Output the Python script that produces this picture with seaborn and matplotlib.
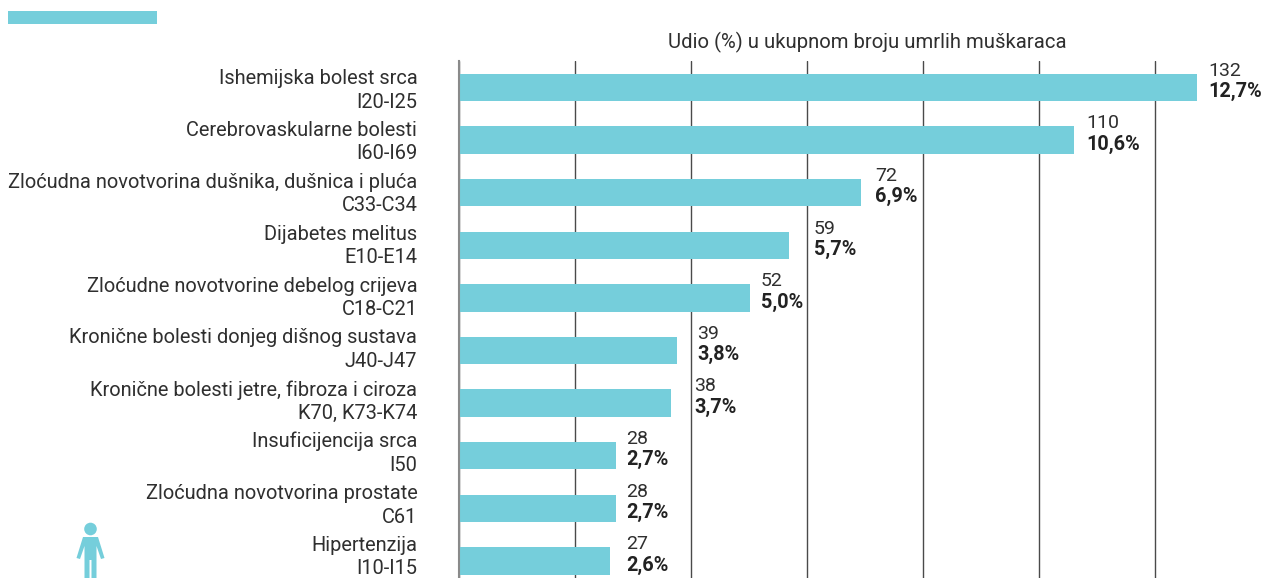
import matplotlib
matplotlib.use("Agg")
import matplotlib.pyplot as plt
from matplotlib.patches import Circle, Polygon, Rectangle
from matplotlib.transforms import ScaledTranslation
import pandas as pd
import seaborn as sns

bolesti = ["Ishemijska bolest srca\nI20-I25", "Cerebrovaskularne bolesti\nI60-I69",
           "Zloćudna novotvorina dušnika, dušnica i pluća\nC33-C34", "Dijabetes melitus\nE10-E14",
           "Zloćudne novotvorine debelog crijeva\nC18-C21", "Kronične bolesti donjeg dišnog sustava\nJ40-J47",
           "Kronične bolesti jetre, fibroza i ciroza\nK70, K73-K74", "Insuficijencija srca\nI50",
           "Zloćudna novotvorina prostate\nC61", "Hipertenzija\nI10-I15"]
umrli = [132, 110, 72, 59, 52, 39, 38, 28, 28, 27]
udio = ["12,7%", "10,6%", "6,9%", "5,7%", "5,0%", "3,8%", "3,7%", "2,7%", "2,7%", "2,6%"]
mreza = [0, 20.75, 41.5, 62.25, 83, 103.75, 124.5]
naslov = "Udio (%) u ukupnom broju umrlih muškaraca"

TIRKIZ = "#75CEDB"
TEKST = "#2f2f2f"

sns.set_style("white")
plt.rcParams["font.family"] = ["Roboto", "DejaVu Sans"]

W, H = 1267, 578
fig = plt.figure(figsize=(W / 100, H / 100), dpi=100)
ax = fig.add_axes([459 / W, 0, (W - 459) / W, (H - 61) / H])

df = pd.DataFrame({"bolest": bolesti, "umrli": umrli})
sns.barplot(data=df, x="umrli", y="bolest", color=TIRKIZ, saturation=1, width=0.52, ax=ax, zorder=3,
            linewidth=0)

ax.set_xlim(0, (W - 459) / 5.59)
ax.set_ylim(9.325, -0.504)
ax.set_xticks(mreza)
ax.set_xticklabels([])
ax.set_xlabel("")
ax.set_ylabel("")
ax.grid(axis="x", color="#4a4a4a", lw=1, zorder=0)
ax.tick_params(axis="both", length=0)
ax.tick_params(axis="y", pad=30, labelsize=14.4, labelcolor=TEKST)
# natpisi idu malo gušće od traka, pa svaki red ide još malo gore
for i, t in enumerate(ax.get_yticklabels()):
    t.set_multialignment("right")
    t.set_linespacing(1.3)
    gore = ScaledTranslation(0, (1.5 + i * 0.72) / 100, fig.dpi_scale_trans)
    t.set_transform(t.get_transform() + gore)
sns.despine(ax=ax, top=True, right=True, bottom=True)
ax.spines["left"].set_color("#8a8a8a")
ax.spines["left"].set_linewidth(1.5)
ax.spines["left"].set_zorder(4)

# razmak natpisa od kraja trake nije isti kod svih traka (u pikselima)
razmak = [11, 12, 14, 25, 11, 20, 23, 11, 11, 16]

# broj umrlih iznad, udio ispod
for i, (n, u, r) in enumerate(zip(umrli, udio, razmak)):
    ax.annotate(str(n), (n, i), xytext=(r * 0.72, 12), textcoords="offset points", va="center",
                fontsize=14, color=TEKST)
    ax.annotate(u, (n, i), xytext=(r * 0.72, -3), textcoords="offset points", va="center",
                fontsize=14.3, fontweight="bold", color="#222222")

# traka gore, naslov i ikona u pikselima
ov = fig.add_axes([0, 0, 1, 1], zorder=5)
ov.set_xlim(0, W)
ov.set_ylim(H, 0)
ov.axis("off")
ov.add_patch(Rectangle((8, 11), 149, 13, color=TIRKIZ, lw=0))
ov.text(867.5, 42, naslov, ha="center", va="center", fontsize=14.6, color=TEKST)
ov.add_patch(Circle((90.5, 529), 6.3, color=TIRKIZ, lw=0))
ov.add_patch(Polygon([(83, 537), (98, 537), (104.5, 558), (101, 559), (96.5, 546), (96.5, 578),
                      (91.5, 578), (91.5, 560), (89.5, 560), (89.5, 578), (84.5, 578), (84.5, 546),
                      (80, 559), (76.5, 558)], color=TIRKIZ, lw=0))

fig.savefig("out.png", dpi=100)
